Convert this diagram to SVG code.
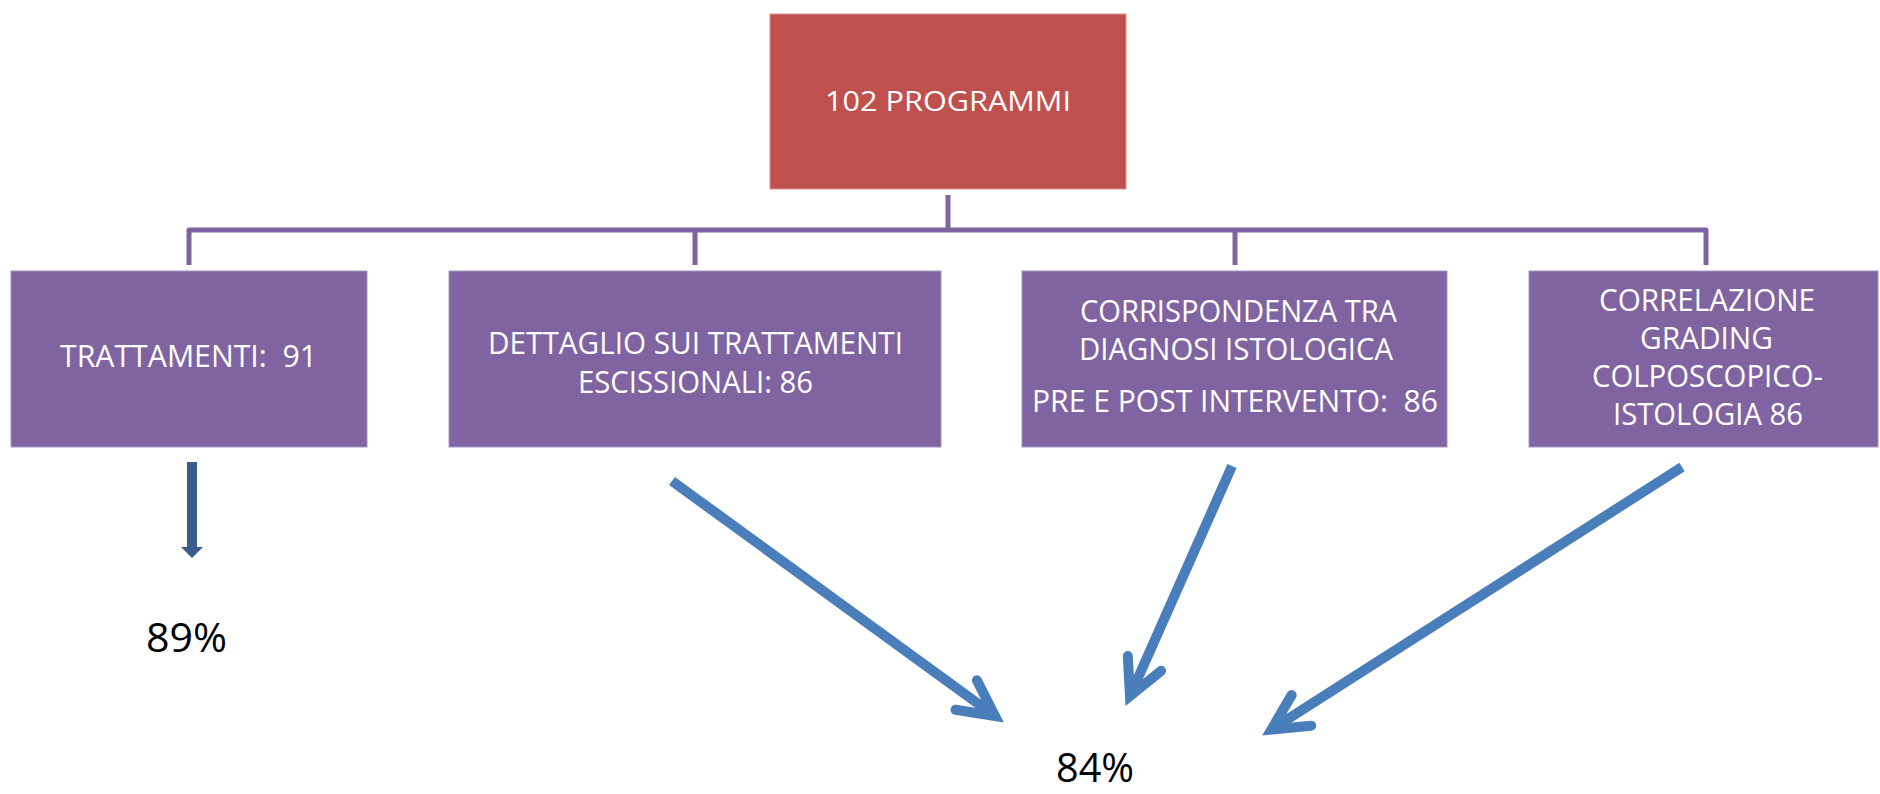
<svg xmlns="http://www.w3.org/2000/svg" width="1880" height="794" viewBox="0 0 1880 794">
<style>
.box{fill:#8064A2;stroke:#A493C2;stroke-width:1}
.root{fill:#C0504D;stroke:#D9928F;stroke-width:1}
.t{font-family:"Open Sans","Liberation Sans",sans-serif;fill:#FFFFFF}
.tb{font-size:31px}
.tr{font-size:27px}
.pct{font-family:"Open Sans","Liberation Sans",sans-serif;font-size:40px;fill:#000000}
.conn{fill:none;stroke:#8064A2;stroke-width:5;stroke-linejoin:round}
.arr{fill:none;stroke:#4A7EBB;stroke-width:10}
.shaft{stroke-linecap:butt}
.head{stroke-linecap:round;stroke-linejoin:miter;stroke-miterlimit:10}
</style>
<rect width="1880" height="794" fill="#FFFFFF"/>
<g id="connectors">
<path class="conn" d="M948 195 V230"/>
<path class="conn" d="M189 265 V230 H1706 V265"/>
<path class="conn" d="M695 230 V265"/>
<path class="conn" d="M1235 230 V265"/>
<g id="arrow-trattamenti">
<rect x="187" y="462" width="10" height="86" fill="#385D8A"/>
<polygon points="181,547 203,547 192,558" fill="#385D8A"/>
</g>
<g id="arrow-a">
<line class="arr shaft" x1="672" y1="481" x2="995" y2="716"/>
<path class="arr head" d="M976.9 680.3 L995 716 L955.5 709.7"/>
</g>
<g id="arrow-b">
<line class="arr shaft" x1="1232" y1="466" x2="1130" y2="696"/>
<path class="arr head" d="M1161.1 670.8 L1130 696 L1127.8 656"/>
</g>
<g id="arrow-c">
<line class="arr shaft" x1="1682" y1="467" x2="1271.4" y2="729.6"/>
<path class="arr head" d="M1311.2 725.7 L1271.4 729.6 L1291.6 695.1"/>
</g>
</g>
<g id="node-programmi">
<rect class="root" x="770" y="14" width="356" height="175"/>
<text class="t tr" x="825" y="111" textLength="246" lengthAdjust="spacingAndGlyphs">102 PROGRAMMI</text>
</g>
<g id="node-trattamenti">
<rect class="box" x="11" y="271" width="356" height="176"/>
<text class="t tb" x="60" y="367" textLength="257" lengthAdjust="spacingAndGlyphs" xml:space="preserve">TRATTAMENTI:  91</text>
</g>
<g id="node-dettaglio">
<rect class="box" x="449" y="271" width="492" height="176"/>
<text class="t tb" x="488" y="354" textLength="415" lengthAdjust="spacingAndGlyphs">DETTAGLIO SUI TRATTAMENTI</text>
<text class="t tb" x="578" y="393" textLength="235" lengthAdjust="spacingAndGlyphs">ESCISSIONALI: 86</text>
</g>
<g id="node-corrispondenza">
<rect class="box" x="1022" y="271" width="425" height="176"/>
<text class="t tb" x="1080" y="322" textLength="317" lengthAdjust="spacingAndGlyphs">CORRISPONDENZA TRA</text>
<text class="t tb" x="1079" y="360" textLength="314" lengthAdjust="spacingAndGlyphs">DIAGNOSI ISTOLOGICA</text>
<text class="t tb" x="1032" y="412" textLength="406" lengthAdjust="spacingAndGlyphs" xml:space="preserve">PRE E POST INTERVENTO:  86</text>
</g>
<g id="node-correlazione">
<rect class="box" x="1529" y="271" width="349" height="176"/>
<text class="t tb" x="1599" y="311" textLength="216" lengthAdjust="spacingAndGlyphs">CORRELAZIONE</text>
<text class="t tb" x="1640" y="349" textLength="133" lengthAdjust="spacingAndGlyphs">GRADING</text>
<text class="t tb" x="1592" y="387" textLength="231" lengthAdjust="spacingAndGlyphs">COLPOSCOPICO-</text>
<text class="t tb" x="1613" y="425" textLength="190" lengthAdjust="spacingAndGlyphs">ISTOLOGIA 86</text>
</g>
<g id="label-89">
<text class="pct" x="146" y="652" textLength="81" lengthAdjust="spacingAndGlyphs">89%</text>
</g>
<g id="label-84">
<text class="pct" x="1056" y="782" textLength="78" lengthAdjust="spacingAndGlyphs">84%</text>
</g>
</svg>
